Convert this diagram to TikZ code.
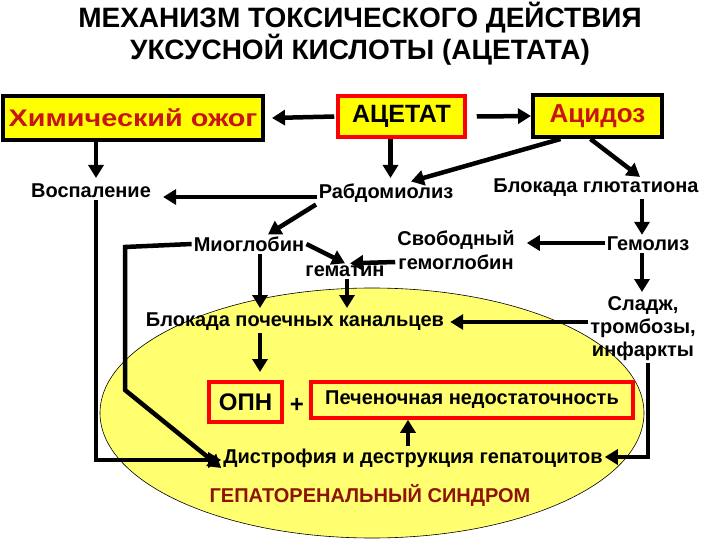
\documentclass[tikz,border=0pt]{standalone}
\usepackage{fontspec}
\setmainfont{Liberation Sans}
\usetikzlibrary{arrows.meta,calc}
\definecolor{boxyellow}{RGB}{255,255,0}
\definecolor{ellyellow}{RGB}{255,255,112}
\definecolor{txtred}{RGB}{200,20,20}
\definecolor{darkred}{RGB}{140,20,5}
\tikzset{
  lbl/.style={inner sep=2pt, align=center, font=\bfseries\fontsize{20}{24}\selectfont},
  ybox/.style={draw=black, line width=4pt, fill=boxyellow, inner sep=0pt, text=txtred},
  rbox/.style={draw=red, line width=3.5pt, fill=boxyellow, inner sep=0pt},
  rframe/.style={draw=red, line width=3.5pt, inner sep=0pt},
  arr/.style={line width=4.5pt, -{Triangle[length=13pt,width=15pt]}},
}
\begin{document}
\begin{tikzpicture}[x=1pt,y=-1pt]
\useasboundingbox (0,0) rectangle (720,540);
\fill[white] (0,0) rectangle (720,540);
% ellipse background
\draw[fill=ellyellow, line width=0.6pt] (372,413) ellipse [x radius=272, y radius=125];

% title
\node[align=center, font=\bfseries\fontsize{28}{32}\selectfont] (title) at (360,34) {МЕХАНИЗМ ТОКСИЧЕСКОГО ДЕЙСТВИЯ\\УКСУСНОЙ КИСЛОТЫ (АЦЕТАТА)};

% top boxes
\node[ybox, minimum width=260pt, minimum height=44pt, font=\bfseries\fontsize{24}{28}\selectfont\addfontfeatures{FakeStretch=1.2}] (chem) at (133,118) {Химический ожог};
\node[rbox, minimum width=127pt, minimum height=41pt, font=\bfseries\fontsize{25}{29}\selectfont] (acet) at (401.5,116.5) {АЦЕТАТ};
\node[ybox, minimum width=129pt, minimum height=42pt, font=\bfseries\fontsize{26}{30}\selectfont] (acid) at (597.5,116) {Ацидоз};

% labels
\node[lbl] (vosp) at (91,191) {Воспаление};
\node[lbl] (rabd) at (386,193) {Рабдомиолиз};
\node[lbl] (glut) at (596,188) {Блокада глютатиона};
\node[lbl] (gemol) at (648,244) {Гемолиз};
\node[lbl] (svob) at (456,250) {Свободный\\гемоглобин};
\node[lbl] (miog) at (249,244) {Миоглобин};
\node[lbl] (gemat) at (345,271) {гематин};
\node[lbl] (blok) at (295,322) {Блокада почечных канальцев};
\node[lbl, font=\bfseries\fontsize{20}{23}\selectfont] (sladzh) at (643,329) {Сладж,\\тромбозы,\\инфаркты};

\node[rframe, minimum width=73pt, minimum height=40pt, font=\bfseries\fontsize{24}{28}\selectfont] (opn) at (245.5,402) {ОПН};
\node[lbl, font=\bfseries\fontsize{24}{28}\selectfont] (plus) at (297,405) {+};
\node[rframe, minimum width=322pt, minimum height=36pt, font=\bfseries\fontsize{20}{24}\selectfont] (pech) at (472,400) {Печеночная недостаточность};
\node[lbl, font=\bfseries\fontsize{20}{24}\selectfont] (distr) at (413,458) {Дистрофия и деструкция гепатоцитов};
\node[lbl, font=\bfseries\fontsize{20}{24}\selectfont, text=darkred] (gepato) at (370,495) {ГЕПАТОРЕНАЛЬНЫЙ СИНДРОМ};

% arrows
\draw[arr] ([xshift=-2pt]acet.west) -- ([xshift=7pt]chem.east);
\draw[arr] ([xshift=10pt]acet.east) -- (acid.west);
\draw[arr] ([xshift=-11pt]acet.south) -- ([xshift=-11pt]acet.south |- 0,178);
\draw[arr] ([xshift=-37pt]chem.south) -- ([xshift=-37pt]chem.south |- 0,178);
\draw[arr] (rabd.west |- 0,197) -- ([xshift=10pt]vosp.east |- 0,197);
\draw[arr] ([xshift=-37pt]acid.south) -- ([xshift=25pt]rabd.north);
\draw[arr] ([xshift=-7pt]acid.south) -- ([xshift=44pt]glut.north);
\draw[arr] ([xshift=-6pt]gemol.north |- glut.south) -- ([xshift=-6pt]gemol.north);
\draw[arr] (gemol.west |- 0,243) -- ([xshift=10pt]svob.east |- 0,243);
\draw[arr] ([xshift=-70pt]rabd.south) -- ([xshift=19pt]miog.north);
\draw[arr] (miog.east) -- ([xshift=0pt]gemat.north);
\draw[arr] ([yshift=-12pt]svob.west) -- ([xshift=5pt]gemat.north);
\draw[arr] ([xshift=11pt]miog.south) -- ([xshift=11pt]miog.south |- 0,308);
\draw[arr] ([xshift=2pt]gemat.south) -- ([xshift=2pt]gemat.south |- 0,308);
\draw[arr] (sladzh.west |- 0,322) -- ([xshift=4pt]blok.east |- 0,322);
\draw[arr] ([xshift=-6pt]gemol.south) -- ([xshift=-6pt]gemol.south |- 0,292);
\draw[arr] ([xshift=-35pt]blok.south) -- ([xshift=-35pt]blok.south |- 0,372);
\draw[arr] ([xshift=-5pt]distr.north) -- ([xshift=-5pt]distr.north |- pech.south);
% loops
\draw[arr] (miog.west) -- (125,247) -- (125,390) -- ([yshift=-10pt]distr.west);
\draw[arr] ([xshift=5pt]vosp.south) -- ([xshift=5pt]vosp.south |- 0,460) -- (distr.west |- 0,460);
\draw[arr] ([xshift=5pt]sladzh.south) -- ([xshift=5pt]sladzh.south |- 0,457) -- (distr.east |- 0,457);
\end{tikzpicture}
\end{document}
